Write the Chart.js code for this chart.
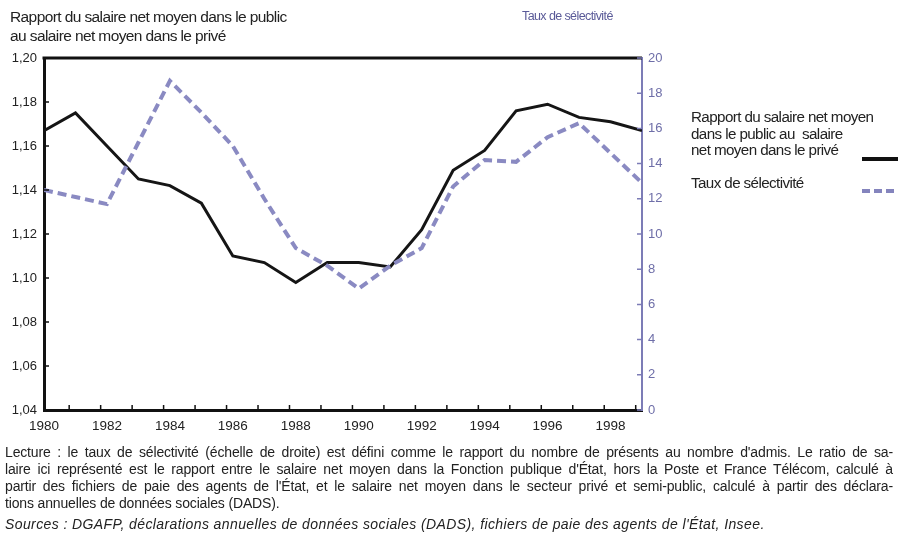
<!DOCTYPE html>
<html><head><meta charset="utf-8">
<script src="https://cdn.jsdelivr.net/npm/chart.js@4/dist/chart.umd.min.js"></script>
<style>
html,body{margin:0;padding:0;background:#fff;}
#wrap{position:relative;width:898px;height:541px;overflow:hidden;font-family:"Liberation Sans",Arial,sans-serif;color:#222;}
canvas{position:absolute;left:0;top:0;}
.t{position:absolute;white-space:nowrap;}
.j{text-align:justify;text-align-last:justify;}
</style></head><body>
<div id="wrap">
<canvas id="c" width="898" height="541"></canvas>
<div class="t" style="left:10px;top:7px;font-size:15.5px;line-height:19px;letter-spacing:-0.6px;">Rapport du salaire net moyen dans le public<br>au salaire net moyen dans le privé</div>
<div class="t" style="left:522px;top:9px;font-size:12.5px;letter-spacing:-0.6px;color:#5a5a98;">Taux de sélectivité</div>
<div class="t" style="left:691px;top:109px;font-size:15.2px;line-height:16.5px;letter-spacing:-0.6px;">Rapport du salaire net moyen<br>dans le public au&nbsp; salaire<br>net moyen dans le privé</div>
<div class="t" style="left:691px;top:174px;font-size:15.2px;letter-spacing:-0.6px;">Taux de sélectivité</div>
<div style="position:absolute;left:862px;top:157px;width:36px;height:4px;background:#111;"></div>
<div style="position:absolute;left:862px;top:189px;width:36px;height:4px;background:repeating-linear-gradient(90deg,#8484bd 0 8px,transparent 8px 12px);"></div>
<div style="position:absolute;left:5px;top:444px;width:888px;font-size:14px;line-height:17px;letter-spacing:-0.15px;">
<div class="j">Lecture : le taux de sélectivité (échelle de droite) est défini comme le rapport du nombre de présents au nombre d'admis. Le ratio de sa-</div>
<div class="j">laire ici représenté est le rapport entre le salaire net moyen dans la Fonction publique d'État, hors la Poste et France Télécom, calculé à</div>
<div class="j">partir des fichiers de paie des agents de l'État, et le salaire net moyen dans le secteur privé et semi-public, calculé à partir des déclara-</div>
<div>tions annuelles de données sociales (DADS).</div>
<div style="font-style:italic;margin-top:4px;letter-spacing:0.4px;">Sources : DGAFP, déclarations annuelles de données sociales (DADS), fichiers de paie des agents de l'État, Insee.</div>
</div>
</div>
<script>
// ---- data ----
const years = [1980,1981,1982,1983,1984,1985,1986,1987,1988,1989,1990,1991,1992,1993,1994,1995,1996,1997,1998,1999];
const salaryRatio = [1.167,1.175,1.160,1.145,1.142,1.134,1.110,1.107,1.098,1.107,1.107,1.105,1.122,1.149,1.158,1.176,1.179,1.173,1.171,1.167];
const selectivity = [12.5,12.1,11.7,15.2,18.7,16.9,15.0,12.0,9.2,8.2,6.9,8.2,9.2,12.7,14.2,14.1,15.5,16.3,14.6,12.9];
const xTickLabels = [1980,1982,1984,1986,1988,1990,1992,1994,1996,1998];
const leftTicks = [1.04,1.06,1.08,1.10,1.12,1.14,1.16,1.18,1.20];
const rightTicks = [0,2,4,6,8,10,12,14,16,18,20];

const BLUE = '#7c7cb6';
const font = {family:'"Liberation Sans", Arial, sans-serif', size:13};

function zeroPad(s){ s.paddingTop=0; s.paddingBottom=0; s.paddingLeft=0; s.paddingRight=0; }

const frame = {
  id:'frame',
  afterDatasetsDraw(chart){
    const {ctx, chartArea:a, scales} = chart;
    ctx.save();
    ctx.strokeStyle='#111'; ctx.lineWidth=3;
    ctx.beginPath(); ctx.moveTo(a.left-1.5, a.top); ctx.lineTo(a.right, a.top); ctx.stroke();
    ctx.lineWidth=1.5;
    ctx.beginPath();
    leftTicks.forEach(v=>{const p=scales.y.getPixelForValue(v); ctx.moveTo(a.left,p); ctx.lineTo(a.left+5,p);});
    for(let v=years[0]+0.8; v<years[years.length-1]; v+=1){const p=scales.x.getPixelForValue(v); ctx.moveTo(p,a.bottom); ctx.lineTo(p,a.bottom-5);}
    ctx.stroke();
    ctx.strokeStyle=BLUE;
    ctx.beginPath();
    rightTicks.forEach(v=>{const p=scales.y1.getPixelForValue(v); ctx.moveTo(a.right,p); ctx.lineTo(a.right-5,p);});
    ctx.stroke();
    ctx.restore();
  }
};

new Chart(document.getElementById('c'), {
  type:'line',
  data:{
    datasets:[
      {label:'Taux de sélectivité', data: years.map((y,i)=>({x:y,y:selectivity[i]})), yAxisID:'y1',
       borderColor:'#8a8ac2', borderWidth:4, borderDash:[9,5], pointRadius:0, tension:0},
      {label:'Rapport du salaire net moyen dans le public au salaire net moyen dans le privé',
       data: years.map((y,i)=>({x:y,y:salaryRatio[i]})), yAxisID:'y',
       borderColor:'#151515', borderWidth:3, pointRadius:0, tension:0}
    ]
  },
  options:{
    responsive:false, animation:false, devicePixelRatio:1,
    layout:{padding:{left:0,right:0,top:58,bottom:101}},
    plugins:{legend:{display:false}, tooltip:{enabled:false}},
    scales:{
      x:{type:'linear', min:years[0], max:years[years.length-1],
         afterBuildTicks(s){ s.ticks = xTickLabels.map(v=>({value:v})); },
         afterFit(s){ s.height=30; zeroPad(s); },
         grid:{display:false, drawTicks:false},
         border:{display:true, color:'#111', width:3},
         ticks:{font:{...font, size:13.5}, color:'#222', padding:8, autoSkip:false, maxRotation:0,
                callback:v=>String(v)}},
      y:{type:'linear', position:'left', min:1.04, max:1.20,
         afterBuildTicks(s){ s.ticks = leftTicks.map(v=>({value:v})); },
         afterFit(s){ s.width=44; zeroPad(s); },
         grid:{display:false, drawTicks:false},
         border:{display:true, color:'#111', width:3},
         ticks:{font, color:'#222', padding:7, callback:v=>v.toFixed(2).replace('.',',')}},
      y1:{type:'linear', position:'right', min:0, max:20,
         afterBuildTicks(s){ s.ticks = rightTicks.map(v=>({value:v})); },
         afterFit(s){ s.width=256; zeroPad(s); },
         grid:{display:false, drawTicks:false},
         border:{display:true, color:BLUE, width:2},
         ticks:{font, color:'#6e6ea8', padding:6, callback:v=>String(v)}}
    }
  },
  plugins:[frame]
});
</script>
</body></html>
